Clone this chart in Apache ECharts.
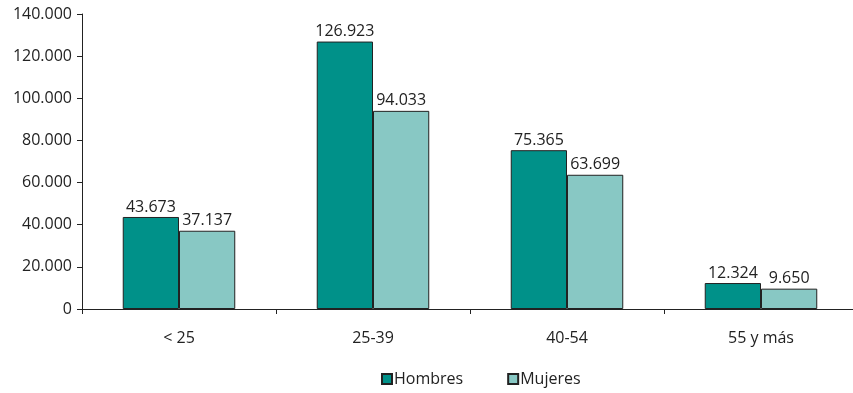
<!DOCTYPE html>
<html><head><meta charset="utf-8">
<script src="https://cdn.jsdelivr.net/npm/echarts@6/dist/echarts.min.js"></script>
<style>html,body{margin:0;padding:0;background:#fff;overflow:hidden}#c{width:862px;height:393px}</style>
</head><body><div id="c"></div>
<script>
const categories = ['< 25', '25-39', '40-54', '55 y más'];
const hombres = [43673, 126923, 75365, 12324];
const mujeres = [37137, 94033, 63699, 9650];
const yTicks = [0, 20000, 40000, 60000, 80000, 100000, 120000, 140000];

const fmt = v => String(v).replace(/\B(?=(\d{3})+(?!\d))/g, '.');
const font = 'Open Sans';
const chart = echarts.init(document.getElementById('c'));
chart.setOption({
  animation: false,
  textStyle: { fontFamily: font },
  grid: { left: 82, top: 14, width: 776, height: 295, containLabel: false },
  legend: {
    bottom: 1, left: 376, itemWidth: 10, itemHeight: 10, itemGap: 44,
    icon: 'rect',
    textStyle: { fontFamily: font, fontSize: 16, color: '#222', padding: [0,0,0,-3] },
    data: ['Hombres', 'Mujeres']
  },
  xAxis: {
    type: 'category', data: categories,
    axisLine: { lineStyle: { color: '#222', width: 1 } },
    axisTick: { show: true, length: 5, lineStyle: { color: '#222' } },
    axisLabel: { color: '#222', fontSize: 16, margin: 21, fontFamily: font }
  },
  yAxis: {
    type: 'value', min: 0, max: yTicks[yTicks.length-1], interval: 20000,
    axisLine: { show: true, lineStyle: { color: '#222', width: 1 } },
    axisTick: { show: true, length: 5, lineStyle: { color: '#222' } },
    splitLine: { show: false },
    axisLabel: { color: '#222', fontSize: 16, margin: 10, fontFamily: font, formatter: v => fmt(v) }
  },
  series: [
    { name: 'Hombres', type: 'bar', data: hombres, barGap: '0%', barCategoryGap: '42%',
      itemStyle: { color: '#009189', borderColor: '#222', borderWidth: 1 },
      label: { show: true, position: 'top', distance: 2, color: '#222', fontSize: 16, fontFamily: font, formatter: p => fmt(p.value) } },
    { name: 'Mujeres', type: 'bar', data: mujeres, barGap: '0%', barCategoryGap: '42%',
      itemStyle: { color: '#88C8C4', borderColor: '#222', borderWidth: 1 },
      label: { show: true, position: 'top', distance: 2, color: '#222', fontSize: 16, fontFamily: font, formatter: p => fmt(p.value) } }
  ]
});
</script></body></html>
